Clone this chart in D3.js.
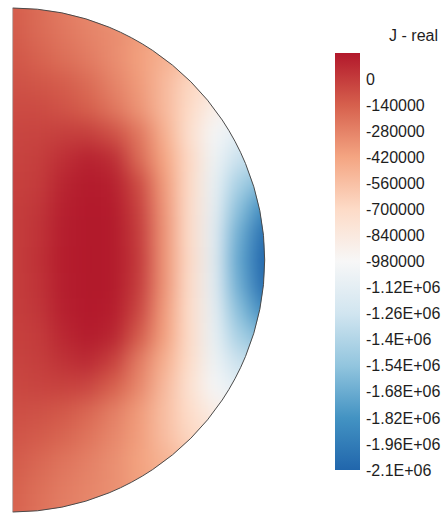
<!DOCTYPE html>
<html>
<head>
<meta charset="utf-8">
<script src="https://cdn.jsdelivr.net/npm/d3@7/dist/d3.min.js"></script>
<style>
  body { margin: 0; background: #fff; }
  svg { display: block; }
</style>
</head>
<body>
<div id="chart"></div>
<script>
// Grid of the half-disk section: x = 0..1 (fraction of radius), y = 1..-1
var gridX = [0, 0.1, 0.2, 0.3, 0.4, 0.5, 0.6, 0.7, 0.8, 0.9, 1.0];
var gridY = [1.0, 0.9, 0.8, 0.7, 0.6, 0.5, 0.4, 0.3, 0.2, 0.1, 0,
             -0.1, -0.2, -0.3, -0.4, -0.5, -0.6, -0.7, -0.8, -0.9, -1.0];

// J - real (thousands), one row per gridY
var jReal = [
  [-130, -190, -250, -300, -350, -400, -460, -530, -600, -680, -750],
  [-120, -180, -230, -280, -320, -380, -450, -520, -600, -680, -750],
  [-100, -150, -200, -250, -320, -400, -480, -560, -640, -720, -800],
  [-80, -100, -130, -190, -280, -380, -520, -680, -780, -850, -900],
  [-60, -60, -90, -140, -230, -350, -520, -700, -900, -1000, -1100],
  [-40, -30, -10, -10, -80, -230, -470, -740, -1000, -1150, -1200],
  [-30, -10, 50, 100, 60, -180, -420, -690, -1050, -1300, -1350],
  [-20, 0, 90, 130, 110, -60, -380, -700, -1080, -1450, -1620],
  [-10, 20, 110, 135, 125, -20, -360, -710, -1100, -1580, -1880],
  [-10, 30, 115, 138, 130, 0, -350, -710, -1120, -1680, -2050],
  [-10, 40, 120, 138, 130, 10, -350, -700, -1130, -1720, -2120],
  [-10, 30, 115, 138, 130, 0, -350, -710, -1120, -1680, -2060],
  [-10, 20, 110, 135, 120, -40, -380, -720, -1100, -1580, -1880],
  [-20, 0, 80, 125, 90, -120, -400, -710, -1080, -1450, -1620],
  [-30, -10, 40, 70, -20, -250, -470, -720, -1050, -1300, -1350],
  [-45, -30, -20, -40, -140, -300, -520, -760, -1000, -1150, -1200],
  [-70, -80, -110, -170, -260, -380, -550, -720, -880, -980, -1050],
  [-95, -120, -160, -220, -300, -390, -540, -680, -760, -830, -900],
  [-120, -170, -220, -270, -330, -410, -490, -570, -650, -720, -800],
  [-140, -200, -250, -290, -330, -400, -470, -540, -610, -690, -760],
  [-150, -210, -260, -300, -350, -410, -480, -550, -620, -700, -770]
];

// Colour bar
var legendTitle = "J - real";
var legendStops = [140, -140, -420, -700, -980, -1260, -1540, -1820, -2100];
var tickValues = [0, -140, -280, -420, -560, -700, -840, -980, -1120,
                  -1260, -1400, -1540, -1680, -1820, -1960, -2100];
var tickLabels = ["0", "-140000", "-280000", "-420000", "-560000", "-700000",
                  "-840000", "-980000", "-1.12E+06", "-1.26E+06", "-1.4E+06",
                  "-1.54E+06", "-1.68E+06", "-1.82E+06", "-1.96E+06", "-2.1E+06"];

var svgWidth = 446;
var svgHeight = 513;

var svg = d3.select("#chart")
  .append("svg")
  .attr("width", svgWidth)
  .attr("height", svgHeight);

// Scales
var x = d3.scaleLinear().domain([0, 1]).range([12.7, 264.7]);
var y = d3.scaleLinear().domain([-1, 1]).range([512, 8]);
var color = d3.scaleLinear()
  .domain(legendStops)
  .range(d3.schemeRdBu[9])
  .clamp(true);

var cw = x(0.1) - x(0);
var ch = y(0) - y(0.1);
var pad = 40;

var defs = svg.append("defs");

// soft blur so the cells read as a smooth field
var smooth = defs.append("filter")
  .attr("id", "smooth")
  .attr("filterUnits", "userSpaceOnUse")
  .attr("x", -100).attr("y", -100)
  .attr("width", 500).attr("height", 720)
  .attr("color-interpolation-filters", "sRGB");
smooth.append("feGaussianBlur").attr("stdDeviation", 10);

var r = x(1) - x(0);
var cx = x(0), cy = y(0);
var halfDisk = "M" + cx + "," + (cy - r) +
  " A" + r + "," + r + " 0 0 1 " + cx + "," + (cy + r) + " Z";

defs.append("clipPath").attr("id", "half")
  .append("path").attr("d", halfDisk);

var cells = [];
jReal.forEach(function(row, i) {
  row.forEach(function(v, j) {
    cells.push({ i: i, j: j, v: v });
  });
});

var last = gridX.length - 1;
var lastRow = gridY.length - 1;

var field = svg.append("g")
  .attr("clip-path", "url(#half)")
  .append("g")
  .attr("filter", "url(#smooth)");

field.selectAll("rect")
  .data(cells)
  .enter()
  .append("rect")
  .attr("x", d => x(gridX[d.j]) - cw / 2 - (d.j === 0 ? pad : 0))
  .attr("y", d => y(gridY[d.i]) - ch / 2 - (d.i === 0 ? pad : 0))
  .attr("width", d => cw + 0.6 + (d.j === 0 || d.j === last ? pad : 0))
  .attr("height", d => ch + 0.6 + (d.i === 0 || d.i === lastRow ? pad : 0))
  .attr("fill", d => color(d.v));

// outline of the section
svg.append("path")
  .attr("d", "M" + cx + "," + (cy - r) + " A" + r + "," + r + " 0 0 1 " + cx + "," + (cy + r))
  .attr("fill", "none")
  .attr("stroke", "#4a4a4a")
  .attr("stroke-width", 1);

svg.append("line")
  .attr("x1", cx).attr("x2", cx)
  .attr("y1", cy - r).attr("y2", cy + r)
  .attr("stroke", "#9a9a9a")
  .attr("stroke-width", 0.6);

// Colour bar
var barX = 335, barW = 25;
var barY = d3.scaleLinear().domain([140, -2100]).range([53, 470]);

var grad = defs.append("linearGradient")
  .attr("id", "bar")
  .attr("x1", 0).attr("y1", 0).attr("x2", 0).attr("y2", 1);

grad.selectAll("stop")
  .data(legendStops)
  .enter()
  .append("stop")
  .attr("offset", d => (barY(d) - barY(140)) / (barY(-2100) - barY(140)))
  .attr("stop-color", d => color(d));

svg.append("rect")
  .attr("x", barX)
  .attr("y", barY(140))
  .attr("width", barW)
  .attr("height", barY(-2100) - barY(140))
  .attr("fill", "url(#bar)");

var legendAxis = d3.axisRight(barY)
  .tickValues(tickValues)
  .tickFormat((d, i) => tickLabels[i])
  .tickSize(0)
  .tickPadding(6);

var axisG = svg.append("g")
  .attr("transform", `translate(${barX + barW}, 0)`)
  .call(legendAxis);

axisG.select(".domain").remove();
axisG.selectAll("text")
  .attr("fill", "#1e1e1e")
  .style("font-family", "'Liberation Sans', Arial, sans-serif")
  .style("font-size", "16px");

svg.append("text")
  .attr("x", 438)
  .attr("y", 41)
  .attr("text-anchor", "end")
  .attr("fill", "#1e1e1e")
  .style("font-family", "'Liberation Sans', Arial, sans-serif")
  .style("font-size", "16px")
  .text(legendTitle);
</script>
</body>
</html>
